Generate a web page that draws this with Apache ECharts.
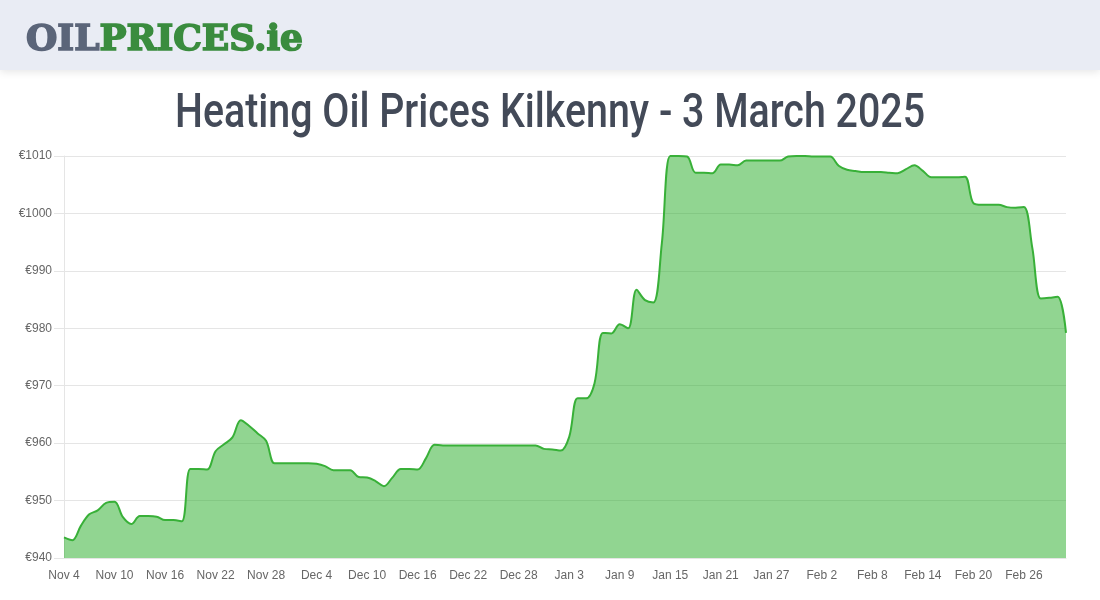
<!DOCTYPE html>
<html>
<head>
<meta charset="utf-8">
<script src="https://cdn.jsdelivr.net/npm/echarts@6/dist/echarts.min.js"></script>
<style>
html,body{margin:0;padding:0;background:#fff;}
#chart{width:1100px;height:600px;}
</style>
</head>
<body>
<div id="chart"></div>
<script>
// ---- data ----
const startDate = '2024-11-04';
const pointCount = 120; // Nov 4 2024 .. Mar 3 2025
const monthNames = ['Jan','Feb','Mar','Apr','May','Jun','Jul','Aug','Sep','Oct','Nov','Dec'];
const categories = [];
(function(){
  const d = new Date(startDate + 'T12:00:00Z');
  for (let i = 0; i < pointCount; i++) {
    categories.push(monthNames[d.getUTCMonth()] + ' ' + d.getUTCDate());
    d.setUTCDate(d.getUTCDate() + 1);
  }
})();
const prices = [
  943.6, 943.1, 945.6, 947.6, 948.3, 949.6, 949.8, 947.1, 945.9, 947.3,
  947.3, 947.2, 946.6, 946.6, 946.4, 955.5, 955.5, 955.4, 958.6, 959.8,
  961.0, 964.0, 963.0, 961.7, 960.4, 956.5, 956.5, 956.5, 956.5, 956.5,
  956.4, 956.0, 955.3, 955.3, 955.3, 954.1, 954.0, 953.4, 952.5, 954.0,
  955.5, 955.5, 955.4, 957.4, 959.7, 959.6, 959.6, 959.6, 959.6, 959.6,
  959.6, 959.6, 959.6, 959.6, 959.6, 959.6, 959.6, 959.0, 958.9, 958.7,
  961.1, 967.8, 967.8, 970.4, 979.2, 979.1, 980.7, 980.0, 986.7, 984.9,
  984.5, 994.8, 1010.0, 1010.0, 1009.9, 1007.1, 1007.1, 1007.0, 1008.5, 1008.5,
  1008.4, 1009.2, 1009.2, 1009.2, 1009.2, 1009.2, 1009.9, 1010.0, 1010.0, 1009.9,
  1009.9, 1009.9, 1008.3, 1007.6, 1007.4, 1007.2, 1007.2, 1007.2, 1007.1, 1007.0,
  1007.7, 1008.4, 1007.4, 1006.3, 1006.3, 1006.3, 1006.3, 1006.4, 1001.8, 1001.5,
  1001.5, 1001.5, 1001.1, 1001.0, 1001.1, 994.0, 985.2, 985.3, 985.5, 979.2
];
const yTicks = { min: 940, max: 1010, step: 10 };
const titleText = 'Heating Oil Prices Kilkenny - 3 March 2025';
const logoPart1 = 'OIL';
const logoPart2 = 'PRICES.ie';

// ---- helpers ----
function measure(font, text){
  const c = document.createElement('canvas').getContext('2d');
  c.font = font;
  return c.measureText(text).width;
}
const titleFont = '500 49px Roboto';
const titleScale = 750 / measure(titleFont, titleText);
const logoFont = 'bold 35px "DejaVu Serif"';
const logoScale = 277 / measure(logoFont, logoPart1 + logoPart2);

const chart = echarts.init(document.getElementById('chart'), null, {renderer:'canvas'});
chart.setOption({
  animation: false,
  backgroundColor: '#ffffff',
  grid: { left: 64, right: 34, top: 156, bottom: 42, containLabel: false },
  graphic: [
    { type: 'rect', left: 0, top: 0, z: 10,
      shape: { x: 0, y: 0, width: 1100, height: 70 },
      style: { fill: '#e9ecf4', shadowBlur: 8, shadowOffsetY: 2, shadowColor: 'rgba(0,0,0,0.10)' } },
    { type: 'text', x: 26, y: 41, z: 11, scaleX: logoScale, originX: 0,
      style: { text: '{a|' + logoPart1 + '}{b|' + logoPart2 + '}', textVerticalAlign: 'middle',
        rich: {
          a: { fontFamily: 'DejaVu Serif', fontWeight: 'bold', fontSize: 35, fill: '#5b6579',
               stroke: '#5b6579', lineWidth: 1.6 },
          b: { fontFamily: 'DejaVu Serif', fontWeight: 'bold', fontSize: 35, fill: '#3a8c3e',
               stroke: '#3a8c3e', lineWidth: 1.6 }
        } } },
    { type: 'text', x: 550, y: 115, z: 11, scaleX: titleScale, originX: 0,
      style: { text: titleText, font: titleFont, fill: '#434a58', textAlign: 'center', textVerticalAlign: 'middle' } }
  ],
  xAxis: {
    type: 'category',
    data: categories,
    boundaryGap: false,
    axisLine: { show: true, lineStyle: { color: '#e5e5e5' } },
    axisTick: { show: false },
    splitLine: { show: false },
    axisLabel: { interval: 5, margin: 12, color: '#666', fontSize: 12, fontFamily: 'Liberation Sans, Arial, sans-serif' }
  },
  yAxis: {
    type: 'value',
    min: yTicks.min, max: yTicks.max, interval: yTicks.step,
    axisLine: { show: true, lineStyle: { color: '#e5e5e5' } },
    axisTick: { show: true, length: 10, lineStyle: { color: '#e5e5e5' } },
    splitLine: { show: true, lineStyle: { color: '#e5e5e5' } },
    axisLabel: { margin: 12, color: '#666', fontSize: 12, fontFamily: 'Liberation Sans, Arial, sans-serif',
      formatter: v => '€' + v }
  },
  series: [{
    type: 'line',
    data: prices,
    smooth: 0.35,
    symbol: 'none',
    clip: true,
    lineStyle: { color: '#38b038', width: 2 },
    areaStyle: { color: 'rgba(35,171,35,0.5)', opacity: 1, origin: 'start' },
    z: 3
  }]
});
</script>
</body>
</html>
